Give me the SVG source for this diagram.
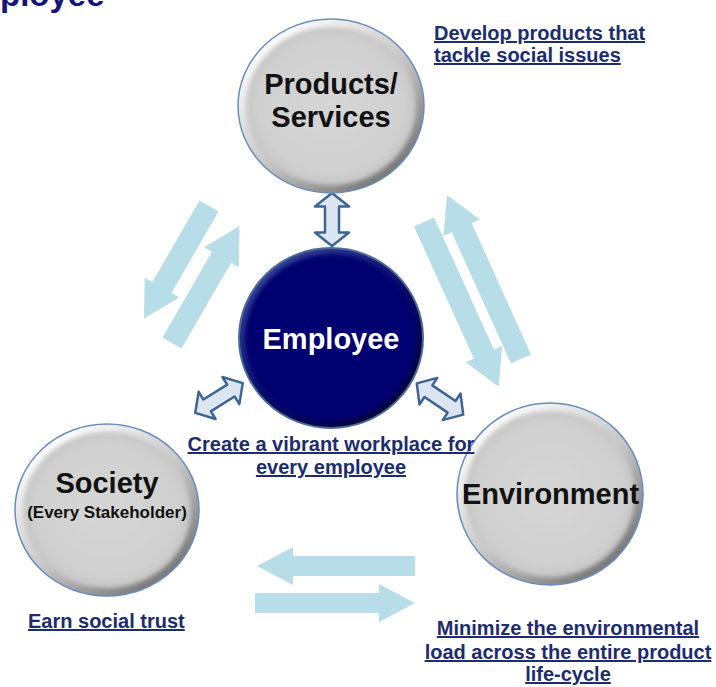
<svg xmlns="http://www.w3.org/2000/svg" width="716" height="687" viewBox="0 0 716 687">
  <defs>
    <style>
      .title { font-family: "Liberation Sans", Arial, sans-serif; font-weight: bold; font-size: 33px; fill: #14147a; }
      .node-label { font-family: "Liberation Sans", Arial, sans-serif; font-weight: bold; font-size: 29px; fill: #111111; text-anchor: middle; }
      .node-sub { font-family: "Liberation Sans", Arial, sans-serif; font-weight: bold; font-size: 17px; fill: #111111; text-anchor: middle; }
      .emp-label { font-family: "Liberation Sans", Arial, sans-serif; font-weight: bold; font-size: 29px; fill: #ffffff; text-anchor: middle; }
      .note { font-family: "Liberation Sans", Arial, sans-serif; font-weight: bold; font-size: 20px; fill: #1c2c70; text-decoration: underline; }
      .note-c { text-anchor: middle; }
      .flow { fill: #b7dde8; }
      .link { fill: #dce6f2; stroke: #3d6593; stroke-width: 2.5; stroke-linejoin: round; }
      .rim { stroke: #6a8bbd; stroke-width: 1.5; }
    </style>
    <linearGradient id="rimGray" x1="0.15" y1="0.1" x2="0.85" y2="0.95">
      <stop offset="0" stop-color="#ffffff"/>
      <stop offset="0.5" stop-color="#c8c8c8"/>
      <stop offset="1" stop-color="#6e6e6e"/>
    </linearGradient>
    <radialGradient id="faceGray" cx="0.5" cy="0.5" r="0.5">
      <stop offset="0" stop-color="#d6d6d6"/>
      <stop offset="0.85" stop-color="#d0d0d0"/>
      <stop offset="1" stop-color="#c6c6c6"/>
    </radialGradient>
    <linearGradient id="rimNavy" x1="0.15" y1="0.1" x2="0.85" y2="0.95">
      <stop offset="0" stop-color="#34449a"/>
      <stop offset="0.5" stop-color="#0b0b6a"/>
      <stop offset="1" stop-color="#00002e"/>
    </linearGradient>
    <filter id="soft" x="-10%" y="-10%" width="120%" height="120%">
      <feGaussianBlur stdDeviation="2"/>
    </filter>
  </defs>

  <!-- heading, clipped by the top edge -->
  <text class="title" x="0" y="6">ployee</text>

  <!-- broad flow arrows and small two-way links -->
  <g id="connectors">
    <!-- Society <-> Products -->
    <path class="flow" transform="translate(209,206) rotate(120)" d="M0,-11 L94,-11 L94,-20 L130,0 L94,20 L94,11 L0,11 Z"/>
    <path class="flow" transform="translate(172,343) rotate(-60)" d="M0,-11 L99,-11 L99,-20 L135,0 L99,20 L99,11 L0,11 Z"/>
    <!-- Products <-> Environment -->
    <path class="flow" transform="translate(424,222) rotate(65.6)" d="M0,-11 L145,-11 L145,-20 L181,0 L145,20 L145,11 L0,11 Z"/>
    <path class="flow" transform="translate(521,359) rotate(-114.3)" d="M0,-11 L144,-11 L144,-20 L180,0 L144,20 L144,11 L0,11 Z"/>
    <!-- Environment <-> Society -->
    <path class="flow" transform="translate(415,566) rotate(180)" d="M0,-10 L122,-10 L122,-19 L158,0 L122,19 L122,10 L0,10 Z"/>
    <path class="flow" transform="translate(255,603) rotate(0)" d="M0,-10 L124,-10 L124,-19 L160,0 L124,19 L124,10 L0,10 Z"/>

    <!-- Employee links -->
    <path class="link" transform="translate(332,219.5) rotate(90)" d="M-26.5,0 L-13,-17 L-13,-7 L13,-7 L13,-17 L26.5,0 L13,17 L13,7 L-13,7 L-13,17 Z"/>
    <path class="link" transform="translate(219,398) rotate(-32)" d="M-28,0 L-14,-16 L-14,-7 L14,-7 L14,-16 L28,0 L14,16 L14,7 L-14,7 L-14,16 Z"/>
    <path class="link" transform="translate(440,399) rotate(34)" d="M-28,0 L-14,-16 L-14,-7 L14,-7 L14,-16 L28,0 L14,16 L14,7 L-14,7 L-14,16 Z"/>
  </g>

  <g id="products">
    <ellipse class="rim" cx="331" cy="106" rx="93" ry="87" fill="url(#rimGray)"/>
    <ellipse cx="331" cy="106" rx="85" ry="79" fill="url(#faceGray)" filter="url(#soft)"/>
    <text class="node-label" x="331" y="94">Products/</text>
    <text class="node-label" x="331" y="127">Services</text>
  </g>

  <g id="employee">
    <ellipse cx="331" cy="338" rx="92" ry="90" fill="url(#rimNavy)" stroke="#4a6a9a" stroke-width="2"/>
    <ellipse cx="331" cy="338" rx="86" ry="84" fill="#03036f" filter="url(#soft)"/>
    <text class="emp-label" x="331" y="349">Employee</text>
  </g>

  <g id="society">
    <ellipse class="rim" cx="107" cy="510" rx="92" ry="86" fill="url(#rimGray)"/>
    <ellipse cx="107" cy="510" rx="84" ry="78" fill="url(#faceGray)" filter="url(#soft)"/>
    <text class="node-label" x="107" y="493">Society</text>
    <text class="node-sub" x="107" y="518">(Every Stakeholder)</text>
  </g>

  <g id="environment">
    <ellipse class="rim" cx="550" cy="494" rx="93" ry="91" fill="url(#rimGray)"/>
    <ellipse cx="550" cy="494" rx="85" ry="83" fill="url(#faceGray)" filter="url(#soft)"/>
    <text class="node-label" x="550.5" y="504">Environment</text>
  </g>

  <!-- goal statements -->
  <g id="note-products">
    <text class="note" x="434" y="40">Develop products that</text>
    <text class="note" x="434" y="62">tackle social issues</text>
  </g>
  <g id="note-employee">
    <text class="note note-c" x="331" y="451">Create a vibrant workplace for</text>
    <text class="note note-c" x="331" y="474">every employee</text>
  </g>
  <g id="note-society">
    <text class="note" x="28" y="628">Earn social trust</text>
  </g>
  <g id="note-environment">
    <text class="note note-c" x="568" y="635">Minimize the environmental</text>
    <text class="note note-c" x="568" y="659">load across the entire product</text>
    <text class="note note-c" x="568" y="681">life-cycle</text>
  </g>
</svg>
